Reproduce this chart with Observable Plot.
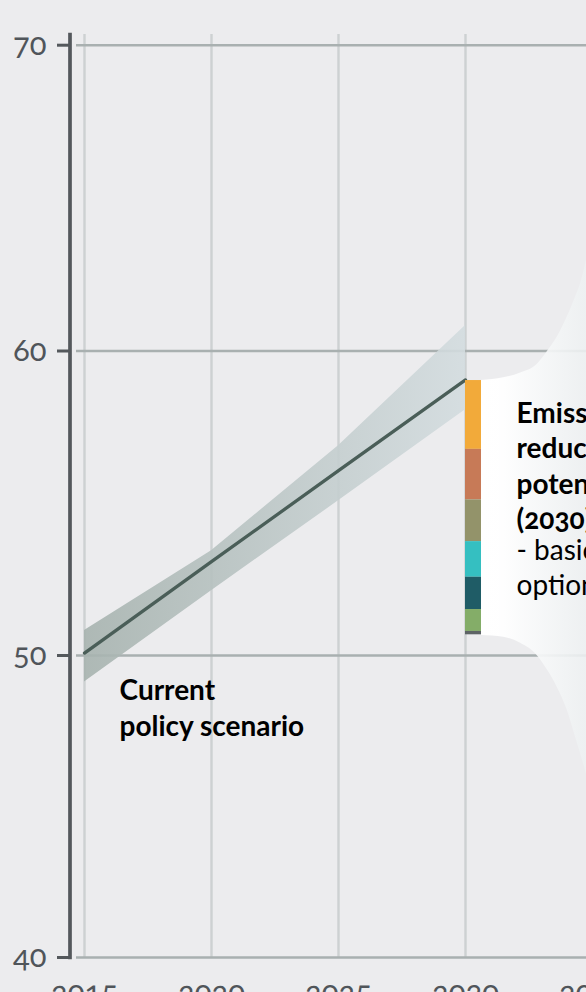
<!DOCTYPE html>
<html><head><meta charset="utf-8">
<script src="https://cdn.jsdelivr.net/npm/d3@7"></script>
<script src="https://cdn.jsdelivr.net/npm/@observablehq/plot@0.6"></script>
<style>
html,body{margin:0;padding:0;background:#ececee;overflow:hidden;}
#chart svg{overflow:hidden;display:block;}
#chart svg text{font-variant-numeric:oldstyle-nums;}
</style></head><body><div id="chart"></div>
<script>
// Current policy scenario (Mt), with uncertainty band
const years = [2015, 2020, 2025, 2030];
const scenario = [50.08, 53.08, 56.07, 59.05];
const bandLow = [49.12, 52.13, 55.08, 58.07];
const bandHigh = [50.82, 53.44, 56.89, 60.83];

// Emission reduction potential (2030) - basic options, top to bottom
const barTop = 59.03;
const measures = ["Option 1", "Option 2", "Option 3", "Option 4", "Option 5", "Option 6", "Option 7"];
const reductions = [2.26, 1.66, 1.37, 1.17, 1.06, 0.72, 0.11];
const measureColors = ["#f2aa3a", "#c77a57", "#93936a", "#35bfc1", "#1f5c66", "#84ad68", "#5e6466"];

// Axis ticks
const xTicks = [2015, 2020, 2025, 2030, 2035];
const yTicks = [40, 50, 60, 70];

// Callout funnel outline (data units)
const funnelX = [2030.63, 2031.5, 2032.17, 2032.82, 2033.24, 2033.61, 2034.0, 2034.33, 2034.53, 2034.76, 2035.2, 2036];
const funnelTop = [59.03, 59.12, 59.28, 59.56, 60.0, 60.45, 61.1, 61.76, 62.2, 62.96, 64.8, 68];
const funnelBottom = [50.66, 50.6, 50.4, 50.0, 49.5, 48.95, 48.2, 47.3, 46.75, 46.08, 44.6, 42];

// Labels
const labels = [{x: 2016.38, y: 47.35, text: "Current\npolicy scenario"}];
const calloutTitle = [{x: 2032.01, y: 54.14, text: "Emission\nreduction\npotential\n(2030)"}];
const calloutSub = [{x: 2032.01, y: 51.98, text: "- basic\noptions"}];

const proj = years.map((year, i) => ({year, mid: scenario[i], lo: bandLow[i], hi: bandHigh[i]}));
let acc = barTop;
const bars = measures.map((m, i) => {
  const y2 = acc; acc -= reductions[i];
  return {measure: m, y1: acc, y2, color: measureColors[i]};
});
const funnel = funnelX.map((x, i) => ({x, top: funnelTop[i], bottom: funnelBottom[i]}));

const svg = Plot.plot({
  width: 586, height: 992,
  marginLeft: 76, marginRight: 0, marginTop: 34, marginBottom: 35,
  style: {background: "#ececee", fontFamily: "Lato, sans-serif", overflow: "hidden"},
  x: {type: "linear", domain: [2015, 2035], range: [84, 592]},
  y: {type: "linear", domain: [40, 50, 60, 70], range: [957, 655, 350.5, 44.7]},
  color: {type: "identity"},
  marks: [
    Plot.ruleX(xTicks, {stroke: "#cdd1d2", strokeWidth: 2.4}),
    Plot.ruleY(yTicks, {stroke: "#a9b0b0", strokeWidth: 2.4}),
    Plot.areaY(proj, {x: "year", y1: "lo", y2: "hi", fill: "url(#bandGrad)"}),
    Plot.line(proj, {x: "year", y: "mid", stroke: "#4a5e58", strokeWidth: 3.3}),
    Plot.areaY(funnel, {x: "x", y1: "bottom", y2: "top", curve: "monotone-x", fill: "url(#funnelGrad)"}),
    Plot.rect(bars, {x1: 2030, x2: 2030.63, y1: "y1", y2: "y2", fill: "color"}),
    Plot.text(labels, {x: "x", y: "y", text: "text", textAnchor: "start", lineAnchor: "bottom", lineHeight: 1.28, fontSize: 28, fontWeight: "bold", fill: "#000"}),
    Plot.text(calloutTitle, {x: "x", y: "y", text: "text", textAnchor: "start", lineAnchor: "bottom", lineHeight: 1.27, fontSize: 28, fontWeight: "bold", fill: "#000"}),
    Plot.text(calloutSub, {x: "x", y: "y", text: "text", textAnchor: "start", lineAnchor: "bottom", lineHeight: 1.25, fontSize: 28, fill: "#000"}),
    Plot.axisY({ticks: yTicks, tickSize: 13, tickPadding: 11, dx: -6, stroke: "#54585c", strokeWidth: 3, fill: "#50555a", fontSize: 31, label: null}),
    Plot.frame({anchor: "left", stroke: "#54585c", strokeWidth: 3.7, dx: -6.5}),
    Plot.axisX({ticks: xTicks, tickSize: 0, tickPadding: 23, fill: "#50555a", fontSize: 31, label: null, tickFormat: d => String(d)})
  ]
});

d3.select(svg).insert("defs", ":first-child").html(`
  <linearGradient id="bandGrad" x1="0" x2="1" y1="0" y2="0">
    <stop offset="0" stop-color="#a7b3af" stop-opacity="0.9"/>
    <stop offset="1" stop-color="#d3dcdf" stop-opacity="0.9"/>
  </linearGradient>
  <linearGradient id="funnelGrad" x1="0" x2="1" y1="0" y2="0">
    <stop offset="0" stop-color="#ffffff" stop-opacity="1"/>
    <stop offset="0.15" stop-color="#ffffff" stop-opacity="0.97"/>
    <stop offset="0.75" stop-color="#eef1f2" stop-opacity="0.88"/>
    <stop offset="1" stop-color="#edf0f1" stop-opacity="0.88"/>
  </linearGradient>`);

document.getElementById("chart").appendChild(svg);
</script></body></html>
